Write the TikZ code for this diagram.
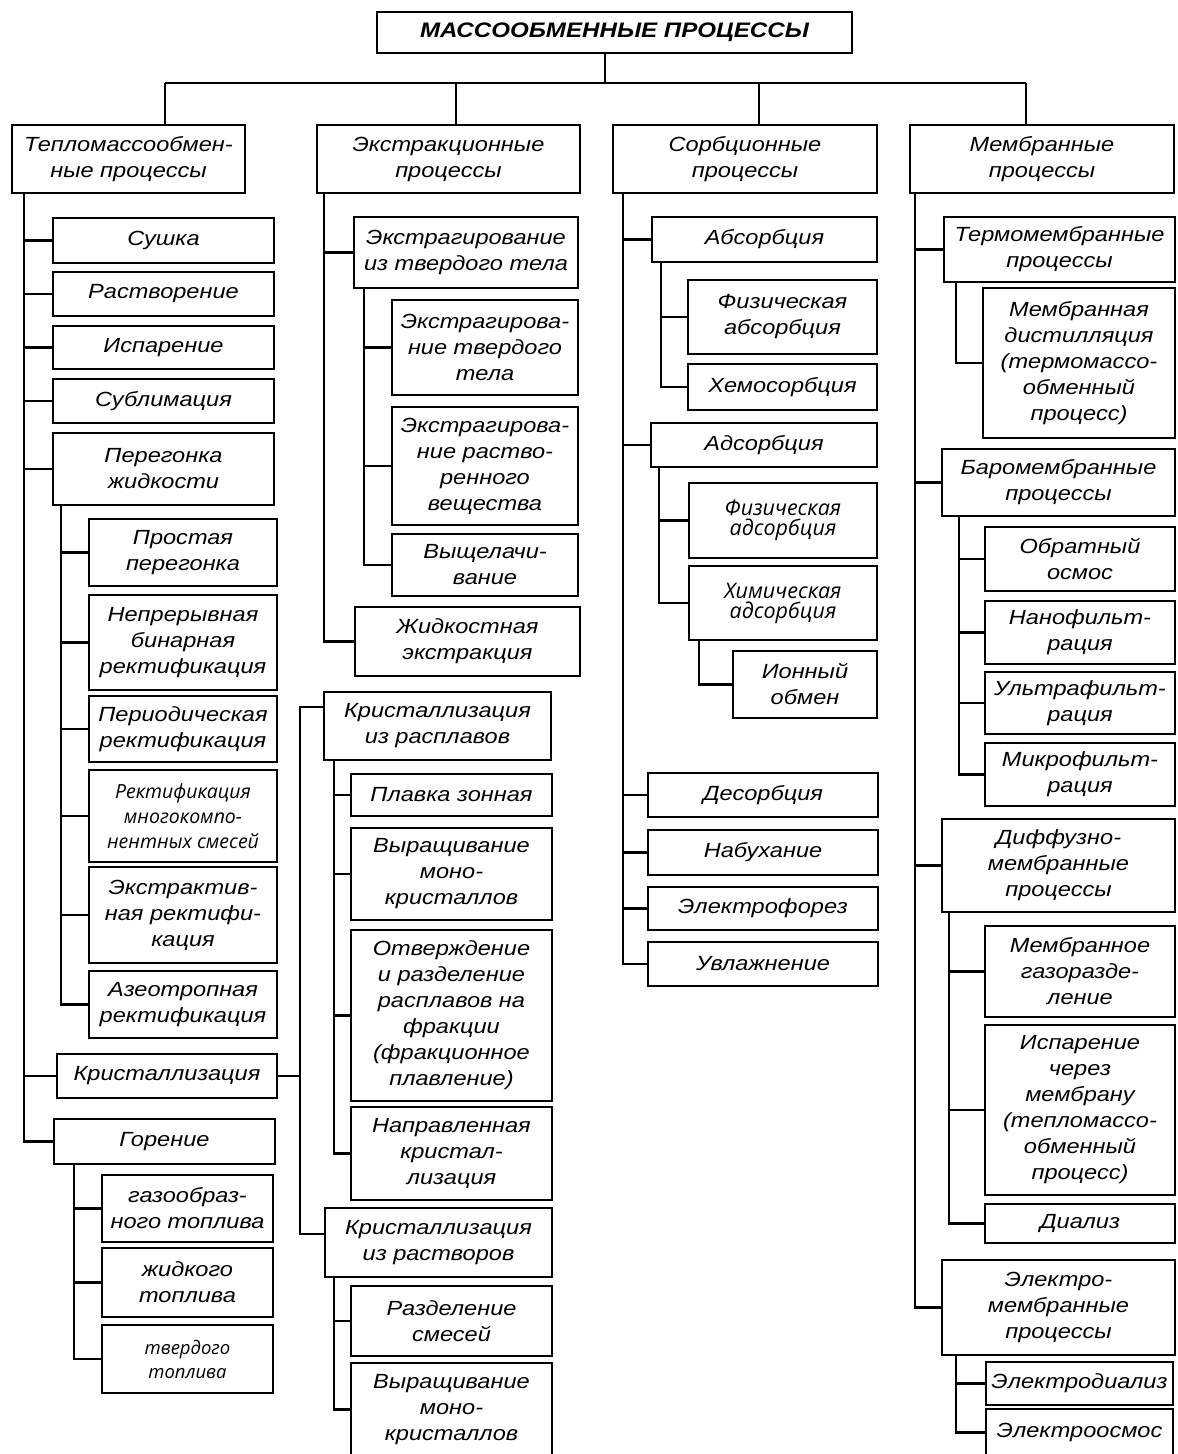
\documentclass[tikz,border=0pt]{standalone}
\usepackage{fontspec}
\newfontfamily\procfont{Liberation Sans}[FakeStretch=1.15]
\newfontfamily\patchfont{Open Sans}
\usetikzlibrary{positioning, calc}

\begin{document}
\begin{tikzpicture}[x=1pt, y=1pt, line width=2.8pt,
   box/.style={draw, anchor=north west, outer sep=0pt, inner sep=1pt, align=center,
     font=\procfont\itshape\fontsize{20.5}{26}\selectfont},
   patch/.style 2 args={font=\patchfont\itshape\fontsize{#1}{#2}\selectfont},
   wd/.style={minimum width=#1}, ht/.style={minimum height=#1}]
   \fill[white] (0,0) rectangle (1178,-1454);
   \useasboundingbox (0,0) rectangle (1178,-1454);

   % top
   \node[box, wd=475, ht=41, font=\procfont\bfseries\itshape\fontsize{21}{26}\selectfont] (title) at (377,-12) {МАССООБМЕННЫЕ ПРОЦЕССЫ};
   \node[box, wd=233, ht=68] (teplo) at (12,-125) {Тепломассообмен-\\ные процессы};
   \node[box, wd=263, ht=68] (ekstr) at (317,-125) {Экстракционные\\процессы};
   \node[box, wd=264, ht=68] (sorb)  at (613,-125) {Сорбционные\\процессы};
   \node[box, wd=264, ht=68] (membr) at (910,-125) {Мембранные\\процессы};

   % column 1
   \node[box, wd=221, ht=45] (sushka)  at (53,-218) {Сушка};
   \node[box, wd=221, ht=44] (rastv)   at (53,-272) {Растворение};
   \node[box, wd=221, ht=43] (isp)     at (53,-326) {Испарение};
   \node[box, wd=221, ht=44] (subl)    at (53,-379) {Сублимация};
   \node[box, wd=221, ht=72] (peregon) at (53,-433) {Перегонка\\жидкости};
   \node[box, wd=188, ht=67] (prost)   at (89,-519) {Простая\\перегонка};
   \node[box, wd=188, ht=95] (nepr)    at (89,-595) {Непрерывная\\бинарная\\ректификация};
   \node[box, wd=188, ht=66] (period)  at (89,-696) {Периодическая\\ректификация};
   \node[box, wd=188, ht=92, patch={19.5}{25}] (mnogo) at (89,-770) {Ректификация\\многокомпо-\\нентных смесей};
   \node[box, wd=188, ht=96] (ekstrakt) at (89,-867) {Экстрактив-\\ная ректифи-\\кация};
   \node[box, wd=188, ht=67] (azeo)    at (89,-971) {Азеотропная\\ректификация};
   \node[box, wd=220, ht=44] (krist)   at (57,-1054) {Кристаллизация};
   \node[box, wd=221, ht=45] (gorenie) at (54,-1119) {Горение};
   \node[box, wd=171, ht=67] (gaz)     at (102,-1175) {газообраз-\\ного топлива};
   \node[box, wd=171, ht=69] (zhid)    at (102,-1248) {жидкого\\топлива};
   \node[box, wd=171, ht=68, patch={18.5}{24}] (tverd) at (102,-1325) {твердого\\топлива};

   % column 2
   \node[box, wd=224, ht=71]  (iztv)    at (354,-217) {Экстрагирование\\из твердого тела};
   \node[box, wd=186, ht=95]  (tvtela)  at (392,-300) {Экстрагирова-\\ние твердого\\тела};
   \node[box, wd=186, ht=118] (rastvor) at (392,-407) {Экстрагирова-\\ние раство-\\ренного\\вещества};
   \node[box, wd=186, ht=62]  (vysch)   at (392,-534) {Выщелачи-\\вание};
   \node[box, wd=225, ht=69]  (zhidk)   at (355,-607) {Жидкостная\\экстракция};
   \node[box, wd=227, ht=68]  (rasplav) at (324,-692) {Кристаллизация\\из расплавов};
   \node[box, wd=201, ht=42]  (plavka)  at (351,-774) {Плавка зонная};
   \node[box, wd=201, ht=92]  (vyr1)    at (351,-828) {Выращивание\\моно-\\кристаллов};
   \node[box, wd=201, ht=171] (otverzh) at (351,-930) {Отверждение\\и разделение\\расплавов на\\фракции\\(фракционное\\плавление)};
   \node[box, wd=201, ht=93]  (napr)    at (351,-1107) {Направленная\\кристал-\\лизация};
   \node[box, wd=227, ht=69]  (rastvory) at (325,-1208) {Кристаллизация\\из растворов};
   \node[box, wd=201, ht=70]  (razd)    at (351,-1286) {Разделение\\смесей};
   \node[box, wd=201, ht=93]  (vyr2)    at (351,-1363) {Выращивание\\моно-\\кристаллов};

   % column 3
   \node[box, wd=225, ht=45] (absorb)  at (652,-217) {Абсорбция};
   \node[box, wd=189, ht=74] (fizabs)  at (688,-280) {Физическая\\абсорбция};
   \node[box, wd=189, ht=46] (hemo)    at (688,-364) {Хемосорбция};
   \node[box, wd=226, ht=44] (adsorb)  at (651,-423) {Адсорбция};
   \node[box, wd=188, ht=75, patch={21.5}{20}] (fizads) at (689,-483) {Физическая\\адсорбция};
   \node[box, wd=188, ht=74, patch={21.5}{20}] (himads) at (689,-566) {Химическая\\адсорбция};
   \node[box, wd=144, ht=67] (ion)     at (733,-651) {Ионный\\обмен};
   \node[box, wd=230, ht=44] (desorb)  at (648,-773) {Десорбция};
   \node[box, wd=230, ht=45] (nabuh)   at (648,-830) {Набухание};
   \node[box, wd=230, ht=43] (elforez) at (648,-887) {Электрофорез};
   \node[box, wd=230, ht=44] (uvlazh)  at (648,-942) {Увлажнение};

   % column 4
   \node[box, wd=231, ht=65]  (termo)   at (944,-217) {Термомембранные\\процессы};
   \node[box, wd=192, ht=150] (distil)  at (983,-288) {Мембранная\\дистилляция\\(термомассо-\\обменный\\процесс)};
   \node[box, wd=233, ht=67]  (baro)    at (942,-449) {Баромембранные\\процессы};
   \node[box, wd=190, ht=64]  (osmos)   at (985,-527) {Обратный\\осмос};
   \node[box, wd=190, ht=63]  (nano)    at (985,-601) {Нанофильт-\\рация};
   \node[box, wd=190, ht=62]  (ultra)   at (985,-672) {Ультрафильт-\\рация};
   \node[box, wd=190, ht=63]  (mikro)   at (985,-743) {Микрофильт-\\рация};
   \node[box, wd=233, ht=93]  (diff)    at (942,-819) {Диффузно-\\мембранные\\процессы};
   \node[box, wd=190, ht=91]  (gazrazd) at (985,-926) {Мембранное\\газоразде-\\ление};
   \node[box, wd=190, ht=170] (ispmem)  at (985,-1025) {Испарение\\через\\мембрану\\(тепломассо-\\обменный\\процесс)};
   \node[box, wd=190, ht=39]  (dializ)  at (985,-1204) {Диализ};
   \node[box, wd=233, ht=95]  (elmem)   at (942,-1260) {Электро-\\мембранные\\процессы};
   \node[box, wd=187, ht=43]  (eldializ) at (986,-1362) {Электродиализ};
   \node[box, wd=187, ht=47]  (elosmos) at (986,-1409) {Электроосмос};

   % top bus
   \coordinate (bus) at (605,-83);
   \draw (title.south -| bus) -- (bus);
   \draw (165,-83) -- (1026,-83);
   \foreach \x/\c in {165/teplo, 456/ekstr, 759/sorb, 1026/membr}
     \draw (\x,-83) -- (\x,-83 |- \c.north);

   % trunks
   \coordinate (t1) at ([xshift=12pt]teplo.south west);
   \draw (t1) |- (gorenie.west);
   \foreach \c in {sushka, rastv, isp, subl, peregon, krist}
     \draw (\c.west) -- (\c.west -| t1);
   \coordinate (t11) at ([xshift=8pt]peregon.south west);
   \draw (t11) |- (azeo.west);
   \foreach \c in {prost, nepr, period, mnogo, ekstrakt}
     \draw (\c.west) -- (\c.west -| t11);
   \coordinate (t12) at ([xshift=20pt]gorenie.south west);
   \draw (t12) |- (tverd.west);
   \foreach \c in {gaz, zhid}
     \draw (\c.west) -- (\c.west -| t12);

   \coordinate (t2) at ([xshift=7pt]ekstr.south west);
   \draw (t2) |- (zhidk.west);
   \draw (iztv.west) -- (iztv.west -| t2);
   \coordinate (t21) at ([xshift=10pt]iztv.south west);
   \draw (t21) |- (vysch.west);
   \foreach \c in {tvtela, rastvor}
     \draw (\c.west) -- (\c.west -| t21);
   \coordinate (kb) at ([xshift=-24pt, yshift=-15pt]rasplav.north west);
   \draw ([yshift=-15pt]rasplav.north west) -- (kb) |- ([yshift=-26pt]rastvory.north west);
   \draw (krist.east) -- (krist.east -| kb);
   \coordinate (t22) at ([xshift=10pt]rasplav.south west);
   \draw (t22) |- (napr.west);
   \foreach \c in {plavka, vyr1, otverzh}
     \draw (\c.west) -- (\c.west -| t22);
   \coordinate (t23) at ([xshift=9pt]rastvory.south west);
   \draw (t23) |- (vyr2.west);
   \draw (razd.west) -- (razd.west -| t23);

   \coordinate (t3) at ([xshift=10pt]sorb.south west);
   \draw (t3) |- (uvlazh.west);
   \foreach \c in {absorb, adsorb, desorb, nabuh, elforez}
     \draw (\c.west) -- (\c.west -| t3);
   \coordinate (t31) at ([xshift=9pt]absorb.south west);
   \draw (t31) |- (hemo.west);
   \draw (fizabs.west) -- (fizabs.west -| t31);
   \coordinate (t32) at ([xshift=8pt]adsorb.south west);
   \draw (t32) |- (himads.west);
   \draw (fizads.west) -- (fizads.west -| t32);
   \coordinate (t33) at ([xshift=10pt]himads.south west);
   \draw (t33) |- (ion.west);

   \coordinate (t4) at ([xshift=5pt]membr.south west);
   \draw (t4) |- (elmem.west);
   \foreach \c in {termo, baro, diff}
     \draw (\c.west) -- (\c.west -| t4);
   \coordinate (t41) at ([xshift=12pt]termo.south west);
   \draw (t41) |- (distil.west);
   \coordinate (t42) at ([xshift=17pt]baro.south west);
   \draw (t42) |- (mikro.west);
   \foreach \c in {osmos, nano, ultra}
     \draw (\c.west) -- (\c.west -| t42);
   \coordinate (t43) at ([xshift=7pt]diff.south west);
   \draw (t43) |- (dializ.west);
   \foreach \c in {gazrazd, ispmem}
     \draw (\c.west) -- (\c.west -| t43);
   \coordinate (t44) at ([xshift=14pt]elmem.south west);
   \draw (t44) |- (elosmos.west);
   \draw (eldializ.west) -- (eldializ.west -| t44);
\end{tikzpicture}
\end{document}
